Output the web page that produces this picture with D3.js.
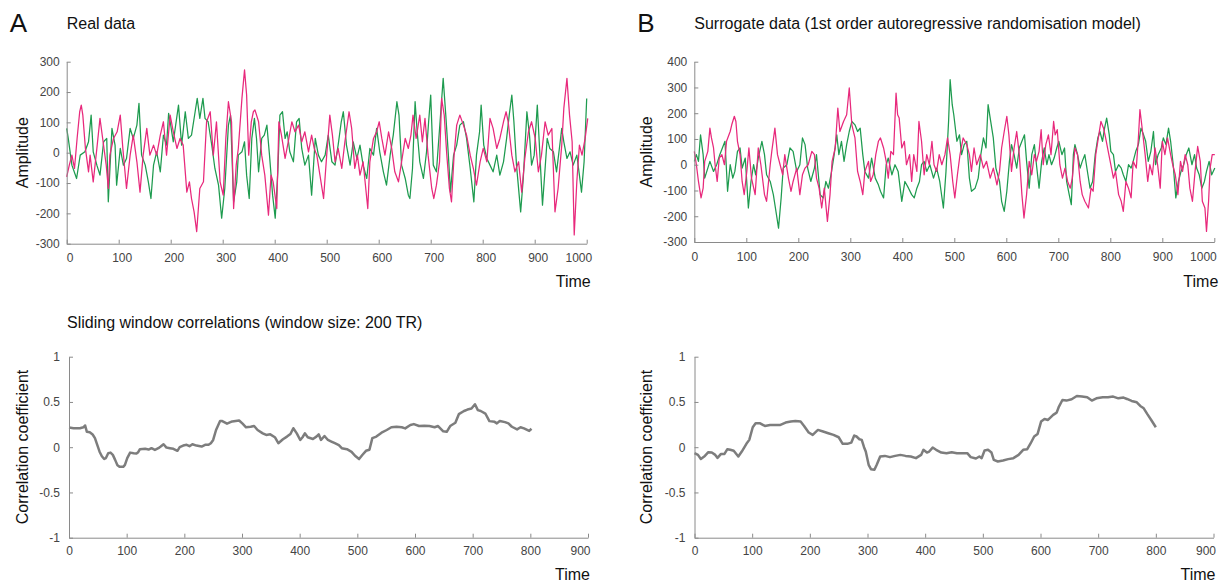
<!DOCTYPE html>
<html><head><meta charset="utf-8">
<script src="https://cdn.jsdelivr.net/npm/d3@7"></script>
<style>
body{margin:0;background:#fff;}
svg{display:block;font-family:"Liberation Sans",Arial,sans-serif;}
</style></head><body>
<svg id="c" width="1222" height="583"></svg>
<script>
// ---- Data ----
const realGreen = [[0,80],[3,47],[10,-41],[19,-85],[26,-8],[35,3],[42,36],[47,124],[51,3],[58,-41],[64,-74],[71,36],[77,47],[80,-162],[87,80],[93,25],[96,-107],[103,14],[109,-41],[115,-19],[122,80],[128,47],[135,91],[139,163],[144,-8],[151,-41],[157,-96],[162,-151],[167,-41],[173,3],[180,-63],[186,58],[192,25],[196,130],[199,102],[205,36],[215,157],[221,25],[228,135],[234,47],[240,58],[247,135],[251,179],[256,113],[262,179],[266,113],[272,102],[279,25],[285,-52],[292,-107],[298,-216],[304,-118],[311,91],[315,124],[321,-162],[327,-96],[330,-8],[337,3],[342,36],[346,-74],[351,-151],[356,47],[361,113],[365,47],[369,-63],[375,47],[380,58],[385,91],[390,-8],[396,-140],[401,-216],[406,-63],[410,124],[415,135],[420,47],[424,69],[429,3],[436,-30],[442,102],[447,113],[452,14],[458,-41],[465,-8],[471,-140],[478,47],[484,-8],[490,-30],[497,-8],[503,58],[510,-30],[516,-41],[522,25],[528,102],[532,135],[538,25],[545,-41],[551,36],[558,-19],[564,25],[570,-41],[577,-85],[583,14],[590,-8],[596,80],[602,3],[609,-63],[615,-107],[622,-8],[628,58],[635,168],[639,124],[644,-41],[651,-85],[657,-140],[660,-151],[665,-52],[670,168],[674,69],[679,-30],[686,-85],[692,3],[696,102],[700,190],[705,-41],[711,-63],[718,102],[724,245],[729,124],[734,-8],[738,-130],[744,-8],[750,25],[756,91],[763,102],[769,47],[776,-52],[783,-162],[788,-8],[794,69],[797,157],[802,25],[808,-19],[814,-41],[820,-63],[827,-8],[833,-74],[840,-30],[846,47],[851,124],[856,190],[860,102],[865,-41],[873,-195],[878,-85],[885,135],[890,58],[894,-41],[899,-8],[905,157],[910,-8],[915,-173],[920,-52],[924,47],[929,14],[936,3],[942,-63],[949,36],[952,80],[956,36],[962,-19],[968,3],[974,-41],[981,-8],[986,-74],[990,-130],[995,-30],[1000,179]];
const realPink = [[0,-80],[5,-41],[10,-8],[15,-52],[20,47],[25,135],[28,157],[31,124],[36,14],[42,-63],[45,-8],[51,-96],[58,14],[64,113],[70,36],[76,-41],[80,-118],[83,-8],[90,47],[97,69],[103,124],[108,14],[115,-118],[122,-8],[128,58],[135,-30],[141,-130],[147,-8],[154,80],[160,-8],[167,25],[173,-8],[180,58],[186,102],[192,-8],[199,124],[205,69],[212,14],[218,47],[224,25],[231,-130],[236,-96],[240,-151],[245,-195],[250,-260],[256,-118],[263,-96],[269,102],[276,135],[282,-8],[288,102],[295,-96],[301,-140],[306,47],[311,168],[317,102],[321,-184],[326,-41],[330,14],[337,179],[342,273],[346,190],[350,-8],[355,102],[359,135],[362,141],[369,102],[375,-8],[381,-74],[388,-206],[393,-74],[397,-96],[404,-184],[408,102],[413,58],[420,-19],[426,36],[433,102],[439,69],[446,91],[452,36],[458,69],[465,3],[471,58],[476,14],[481,-8],[487,-74],[494,-151],[500,-8],[506,124],[511,58],[516,-30],[522,14],[529,-52],[535,36],[543,135],[548,80],[554,-52],[559,-8],[564,-74],[570,-30],[579,-184],[583,-30],[590,47],[596,69],[601,102],[606,47],[612,-8],[619,69],[625,14],[631,-63],[638,-96],[644,-30],[651,47],[657,14],[662,58],[666,124],[672,47],[679,124],[684,36],[689,113],[695,-8],[702,-118],[706,-151],[711,-107],[717,-30],[721,179],[726,124],[731,-8],[736,-118],[740,-162],[745,-8],[750,91],[756,124],[763,91],[769,58],[776,-8],[782,-52],[788,-107],[795,-30],[801,14],[808,-30],[814,113],[820,80],[827,14],[833,47],[840,102],[845,135],[849,102],[856,-8],[862,-63],[869,-30],[875,-130],[881,-19],[888,69],[894,102],[901,47],[907,-63],[913,-8],[920,102],[926,58],[933,80],[939,-195],[945,-118],[952,25],[956,146],[962,245],[967,124],[972,36],[976,-271],[981,-96],[986,25],[991,-8],[997,47],[1002,113]];
const surrGreen = [[0,13],[4,39],[8,13],[12,116],[17,39],[20,-52],[26,-13],[30,13],[37,-26],[43,0],[49,39],[54,65],[59,91],[64,-103],[69,0],[74,-52],[78,-26],[83,52],[88,65],[92,-13],[98,26],[104,-168],[109,-65],[114,0],[118,-39],[123,26],[130,91],[135,39],[139,-39],[146,-65],[152,-116],[156,-168],[162,-246],[167,-129],[171,-13],[178,0],[184,65],[190,52],[197,-26],[203,0],[208,104],[213,78],[218,-13],[224,-65],[231,-13],[235,39],[242,-116],[248,-129],[253,-65],[258,-91],[264,-26],[269,39],[274,116],[278,39],[283,91],[288,13],[293,78],[298,129],[303,168],[309,155],[314,129],[319,142],[324,39],[328,-26],[335,-52],[341,26],[348,-52],[354,-78],[358,-103],[364,-129],[369,0],[373,26],[380,-39],[386,0],[392,-26],[399,-142],[405,-65],[412,-91],[418,-116],[423,-129],[428,-91],[433,-65],[437,0],[442,13],[447,-26],[453,0],[460,-52],[466,-13],[472,-65],[479,-168],[484,-26],[489,168],[492,330],[496,233],[499,194],[505,91],[510,116],[514,39],[519,78],[524,91],[529,-52],[533,-103],[540,-91],[546,-52],[551,39],[556,104],[561,65],[565,233],[570,168],[575,104],[580,-13],[587,-65],[591,-142],[596,-181],[601,-103],[606,13],[610,78],[615,39],[620,-13],[625,65],[630,91],[635,116],[639,13],[644,-91],[649,39],[654,78],[658,0],[663,-91],[668,13],[673,65],[678,0],[682,39],[687,0],[692,26],[697,65],[701,91],[707,39],[712,65],[716,-65],[721,-116],[725,-155],[729,39],[732,78],[737,39],[742,-13],[746,13],[751,39],[757,-39],[761,-91],[766,-65],[771,39],[776,104],[780,129],[785,91],[789,142],[793,181],[798,116],[801,52],[806,39],[810,-26],[816,0],[821,-13],[825,-39],[830,-65],[835,0],[840,-13],[844,13],[849,52],[854,78],[859,142],[864,116],[868,91],[873,13],[878,52],[883,129],[887,0],[892,39],[898,65],[902,104],[907,78],[912,142],[916,91],[921,0],[926,-129],[931,-65],[936,-26],[941,0],[946,39],[951,65],[957,0],[962,39],[966,-13],[971,-39],[976,-91],[981,-65],[985,-26],[990,13],[995,-39],[1001,-13]];
const surrPink = [[0,52],[4,0],[8,-65],[13,-129],[17,-91],[20,13],[26,52],[30,142],[33,104],[37,65],[40,0],[44,-65],[48,26],[53,39],[58,0],[62,91],[69,129],[72,155],[77,188],[80,168],[83,91],[88,39],[92,-65],[96,-116],[101,-26],[105,65],[110,-52],[117,-116],[123,65],[128,0],[135,-116],[139,-142],[146,0],[149,52],[155,142],[160,39],[165,0],[170,-39],[174,39],[181,-52],[186,-103],[190,-65],[197,-13],[203,-116],[208,-39],[213,-13],[219,0],[226,52],[231,39],[235,-52],[240,-91],[245,-168],[250,-91],[256,-220],[261,-116],[265,13],[271,65],[276,220],[280,129],[287,168],[293,194],[298,298],[303,155],[309,104],[314,-26],[319,-65],[324,-116],[328,-26],[335,13],[339,-65],[344,-39],[349,39],[354,91],[358,104],[364,65],[369,13],[373,-52],[378,52],[383,39],[388,278],[391,194],[394,181],[399,65],[404,91],[408,0],[414,39],[418,-65],[422,39],[428,-26],[432,168],[437,91],[442,-39],[447,39],[452,0],[457,91],[461,0],[466,-26],[471,39],[476,0],[482,39],[487,104],[492,39],[497,-65],[501,-129],[506,-39],[511,39],[517,104],[524,78],[529,39],[533,-26],[538,65],[543,0],[550,39],[556,-13],[562,13],[569,-52],[575,-13],[582,-78],[587,-26],[591,65],[596,129],[601,188],[605,116],[610,-26],[615,65],[620,129],[625,39],[630,-116],[634,-207],[639,-116],[644,13],[649,-39],[654,39],[658,13],[663,52],[667,136],[671,0],[676,78],[681,116],[686,39],[691,168],[694,116],[698,136],[703,0],[708,-52],[713,-13],[718,-65],[723,-91],[727,-52],[732,65],[737,39],[742,-65],[746,-116],[751,-142],[758,-168],[763,-91],[767,-103],[772,39],[777,104],[782,168],[787,142],[791,104],[796,52],[801,0],[806,-52],[810,-26],[816,-116],[821,-142],[825,-181],[830,-65],[835,-91],[840,-129],[844,13],[850,-13],[854,104],[857,214],[862,129],[867,39],[872,-65],[876,0],[881,-39],[886,65],[891,0],[896,-91],[900,91],[905,39],[910,104],[916,39],[920,0],[925,-39],[930,-116],[935,13],[939,-26],[944,39],[949,0],[953,-91],[958,-142],[963,-26],[968,71],[973,13],[977,-142],[982,-168],[985,-259],[989,-142],[992,-13],[996,39],[1001,39]];
const corrReal = [[0,0.217],[8,0.21],[19,0.21],[25,0.22],[28,0.24],[31,0.17],[36,0.165],[41,0.14],[45,0.10],[49,0.026],[53,-0.05],[57,-0.10],[61,-0.13],[64,-0.12],[68,-0.066],[72,-0.06],[76,-0.085],[80,-0.14],[84,-0.20],[88,-0.217],[94,-0.217],[97,-0.195],[101,-0.12],[106,-0.06],[112,-0.066],[117,-0.07],[120,-0.055],[123,-0.022],[132,-0.018],[138,-0.026],[143,-0.011],[149,-0.03],[155,-0.011],[159,0.007],[164,0.033],[169,-0.004],[175,-0.011],[181,-0.018],[188,-0.04],[192,0],[198,0.018],[204,0.026],[209,0.011],[214,0.033],[221,0.018],[230,0.007],[236,0.026],[242,0.026],[246,0.044],[250,0.08],[255,0.19],[262,0.29],[265,0.29],[274,0.26],[283,0.285],[295,0.295],[301,0.26],[307,0.22],[315,0.226],[321,0.234],[327,0.19],[336,0.153],[342,0.135],[349,0.142],[357,0.11],[363,0.044],[371,0.088],[378,0.117],[384,0.146],[389,0.21],[395,0.153],[401,0.08],[405,0.11],[409,0.153],[414,0.11],[423,0.091],[429,0.117],[433,0.142],[437,0.08],[443,0.124],[449,0.08],[455,0.062],[461,0.044],[468,0.022],[473,-0.011],[482,-0.022],[490,-0.051],[496,-0.095],[503,-0.131],[509,-0.084],[515,-0.04],[521,-0.029],[526,0.1],[533,0.117],[542,0.16],[551,0.19],[559,0.22],[568,0.226],[577,0.22],[583,0.208],[592,0.245],[598,0.255],[607,0.234],[616,0.237],[625,0.234],[634,0.22],[640,0.234],[649,0.175],[655,0.17],[661,0.234],[670,0.27],[676,0.365],[685,0.40],[691,0.416],[698,0.427],[704,0.474],[709,0.41],[714,0.40],[722,0.372],[729,0.288],[738,0.28],[742,0.263],[747,0.29],[756,0.277],[762,0.263],[768,0.226],[777,0.197],[783,0.22],[789,0.208],[798,0.18],[802,0.204]];
const corrSurr = [[0,-0.066],[6,-0.085],[11,-0.13],[18,-0.096],[24,-0.055],[30,-0.059],[36,-0.085],[40,-0.118],[46,-0.074],[52,-0.074],[57,-0.022],[62,-0.029],[68,-0.04],[76,-0.103],[82,-0.048],[90,0.037],[95,0.081],[101,0.22],[106,0.265],[113,0.265],[122,0.235],[131,0.246],[140,0.246],[149,0.246],[158,0.272],[167,0.283],[175,0.29],[184,0.283],[190,0.235],[198,0.162],[205,0.136],[214,0.191],[223,0.173],[232,0.154],[241,0.136],[250,0.11],[257,0.037],[265,0.037],[272,0.051],[277,0.129],[281,0.118],[286,0.088],[290,0.081],[294,0],[297,-0.048],[302,-0.195],[306,-0.243],[312,-0.25],[316,-0.195],[322,-0.103],[330,-0.096],[339,-0.11],[348,-0.096],[357,-0.085],[366,-0.096],[375,-0.103],[384,-0.121],[393,-0.085],[397,-0.029],[403,-0.059],[407,-0.048],[413,-0.004],[419,-0.029],[428,-0.059],[437,-0.066],[446,-0.055],[455,-0.066],[464,-0.066],[473,-0.066],[479,-0.11],[488,-0.125],[494,-0.103],[498,-0.121],[503,-0.037],[509,-0.029],[515,-0.059],[519,-0.14],[526,-0.158],[535,-0.147],[544,-0.132],[553,-0.121],[562,-0.085],[570,-0.029],[577,-0.022],[583,0.044],[589,0.118],[595,0.147],[601,0.283],[607,0.312],[613,0.301],[622,0.357],[628,0.382],[632,0.449],[638,0.522],[645,0.515],[654,0.53],[663,0.566],[672,0.559],[681,0.551],[689,0.515],[697,0.54],[708,0.551],[717,0.551],[726,0.559],[735,0.54],[744,0.548],[750,0.533],[758,0.511],[767,0.496],[773,0.456],[779,0.43],[785,0.368],[792,0.301],[800,0.22]];

const timeTicksTop = [0,100,200,300,400,500,600,700,800,900,1000];
const timeTicksBottom = [0,100,200,300,400,500,600,700,800,900];
const ampTicksA = [-300,-200,-100,0,100,200,300];
const ampTicksB = [-300,-200,-100,0,100,200,300,400];
const corrTicks = [-1,-0.5,0,0.5,1];

const panelLetters = ["A","B"];
const panelTitles = ["Real data","Surrogate data (1st order autoregressive randomisation model)"];
const corrTitle = "Sliding window correlations (window size: 200 TR)";

// ---- Drawing ----
const GREEN = "#1e9b4f", PINK = "#e8297c", GREY = "#7d7d7d";
const AXIS = "#8a8a8a", LABEL = "#444";
const svg = d3.select("#c");

function axes(g, x, y, xt, yt, opts){
  const xa = d3.axisBottom(x).tickValues(xt).tickSizeInner(-4).tickSizeOuter(0).tickPadding(opts.xpad).tickFormat(d3.format("d"));
  const ya = d3.axisLeft(y).tickValues(yt).tickSizeInner(-4).tickSizeOuter(0).tickPadding(opts.ypad).tickFormat(d=>String(d));
  const gx = g.append("g").attr("transform",`translate(0,${y.range()[0]})`).call(xa);
  const gy = g.append("g").attr("transform",`translate(${x.range()[0]},0)`).call(ya);
  [gx,gy].forEach(a=>{
    a.select(".domain").attr("stroke",AXIS).attr("stroke-width",1);
    a.selectAll(".tick line").attr("stroke",AXIS);
    a.selectAll(".tick text").attr("fill",LABEL).attr("font-size",12).attr("font-family","Liberation Sans, Arial, sans-serif");
  });
  gx.selectAll(".tick text").attr("x",opts.xshift||0);
  const last = gx.selectAll(".tick text").filter((d,i,n)=>i===n.length-1);
  last.attr("text-anchor","end").attr("x",(opts.xshift||0)+2);
  return {gx,gy};
}
function title(x,y,t,size,anchor){
  svg.append("text").attr("x",x).attr("y",y).attr("font-size",size).attr("fill","#111")
    .attr("text-anchor",anchor||"start").text(t);
}
function ylabel(x,y,t){
  svg.append("text").attr("transform",`translate(${x},${y}) rotate(-90)`).attr("dy","0.35em")
    .attr("text-anchor","middle").attr("font-size",16).attr("fill","#111").text(t);
}

const tops = [
  {x0:66.7, x1:586.7, y0:243.7, yd:[-300,300], yt:ampTicksA, data:[realGreen,realPink], xshift:3, ylx:22},
  {x0:694.3, x1:1214.3, y0:242, yd:[-300,400], yt:ampTicksB, data:[surrGreen,surrPink], xshift:0, ylx:646}
];
tops.forEach((p,i)=>{
  const x = d3.scaleLinear().domain([0,1000]).range([p.x0,p.x1]);
  const y = d3.scaleLinear().domain(p.yd).range([p.y0,61.7]);
  const g = svg.append("g");
  const line = d3.line().x(d=>x(d[0])).y(d=>y(d[1]));
  g.append("path").datum(p.data[0]).attr("d",line).attr("fill","none").attr("stroke",GREEN).attr("stroke-width",1.25).attr("stroke-linejoin","round");
  g.append("path").datum(p.data[1]).attr("d",line).attr("fill","none").attr("stroke",PINK).attr("stroke-width",1.25).attr("stroke-linejoin","round");
  axes(g,x,y,timeTicksTop,p.yt,{xpad:10,ypad:7,xshift:p.xshift});
  title(p.x1+4,287,"Time",16,"end");
  ylabel(p.ylx,(p.y0+61.7)/2,"Amplitude");
  title(p.x0-57,32,panelLetters[i],26);
  title(p.x0,29,panelTitles[i],16);
});

const bots = [
  {x0:69, x1:588, data:corrReal, ylx:22},
  {x0:694.5, x1:1213.5, data:corrSurr, ylx:646}
];
bots.forEach((p,i)=>{
  const x = d3.scaleLinear().domain([0,900]).range([p.x0,p.x1]);
  const y = d3.scaleLinear().domain([-1,1]).range([537.7,356.7]);
  const g = svg.append("g");
  const line = d3.line().x(d=>x(d[0])).y(d=>y(d[1]));
  g.append("path").datum(p.data).attr("d",line).attr("fill","none").attr("stroke",GREY).attr("stroke-width",2.5).attr("stroke-linejoin","round");
  axes(g,x,y,timeTicksBottom,corrTicks,{xpad:9,ypad:9,xshift:0});
  title(p.x1+2,580,"Time",16,"end");
  ylabel(p.ylx,447,"Correlation coefficient");
});
title(67,328,corrTitle,16);
</script></body></html>
